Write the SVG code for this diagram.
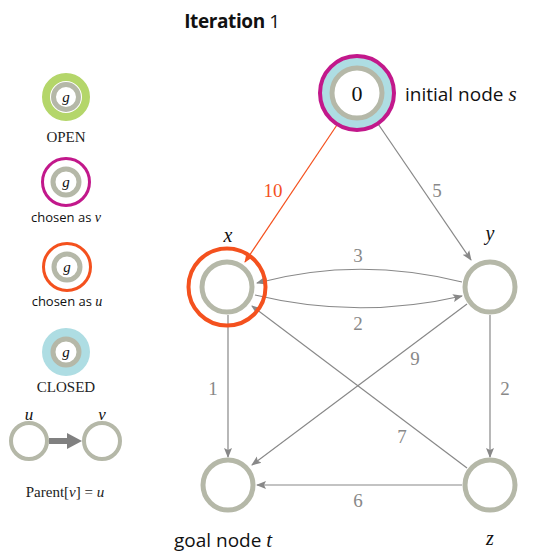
<svg xmlns="http://www.w3.org/2000/svg" width="533" height="553" viewBox="0 0 533 553">
<defs>
<style>
.ring{fill:#fff;stroke:#b5b8a8;stroke-width:5}
.e{fill:none;stroke:#888;stroke-width:1.2}
.lbl{font-family:"Liberation Serif",serif;font-size:19px;fill:#888;text-anchor:middle}
.it{font-family:"Liberation Serif",serif;font-style:italic;fill:#111;text-anchor:middle}
.sans{font-family:"Open Sans","Liberation Sans",sans-serif;fill:#111}
.leg{font-family:"Liberation Serif",serif;font-size:15px;fill:#222;text-anchor:middle}
.legs{font-family:"Open Sans","Liberation Sans",sans-serif;font-size:13px;fill:#111;text-anchor:middle}
</style>
<marker id="ag" viewBox="0 0 10 10" refX="9" refY="5" markerWidth="10" markerHeight="10" markerUnits="userSpaceOnUse" orient="auto"><path d="M0,1 L10,5 L0,9 L2,5 Z" fill="#888"/></marker>
<marker id="ao" viewBox="0 0 10 10" refX="9" refY="5" markerWidth="10" markerHeight="10" markerUnits="userSpaceOnUse" orient="auto"><path d="M0,1 L10,5 L0,9 L2,5 Z" fill="#f4511e"/></marker>
</defs>
<rect width="533" height="553" fill="#fff"/>
<text x="232" y="28" class="sans" font-size="19" text-anchor="middle" letter-spacing="-0.4"><tspan font-weight="bold">Iteration</tspan> 1</text>

<g id="legend">
<g id="leg-open"><circle cx="66" cy="97" r="20" fill="none" stroke="#b4d66a" stroke-width="8"/><circle cx="66" cy="97" r="12.5" class="ring" stroke-width="4"/><text x="66" y="102" class="it" font-size="15">g</text><text x="66" y="142" class="leg">OPEN</text></g>
<g id="leg-v"><circle cx="66" cy="182" r="23.5" fill="none" stroke="#c2188b" stroke-width="3"/><circle cx="66" cy="182" r="13" class="ring" stroke-width="4"/><text x="66" y="187" class="it" font-size="15">g</text><text x="66" y="222" class="legs">chosen as <tspan font-family="Liberation Serif,serif" font-style="italic" font-size="14">v</tspan></text></g>
<g id="leg-u"><circle cx="67" cy="267" r="23.5" fill="none" stroke="#f4511e" stroke-width="3"/><circle cx="67" cy="267" r="13" class="ring" stroke-width="4"/><text x="67" y="272" class="it" font-size="15">g</text><text x="67" y="306" class="legs">chosen as <tspan font-family="Liberation Serif,serif" font-style="italic" font-size="14">u</tspan></text></g>
<g id="leg-closed"><circle cx="66" cy="352" r="24" fill="#aedde3"/><circle cx="66" cy="352" r="13" class="ring" stroke-width="4"/><text x="66" y="357" class="it" font-size="15">g</text><text x="66" y="392" class="leg">CLOSED</text></g>
<g id="leg-parent">
<circle cx="29" cy="441" r="18" fill="#fff" stroke="#b5b8a8" stroke-width="4"/>
<circle cx="102" cy="441" r="18" fill="#fff" stroke="#b5b8a8" stroke-width="4"/>
<path d="M49,438 L67,438 L67,433 L82,441 L67,449 L67,444 L49,444 Z" fill="#808080"/>
<text x="29" y="420" class="it" font-size="17">u</text>
<text x="102" y="420" class="it" font-size="17">v</text>
<text x="65" y="497" class="leg" font-size="14">Parent[<tspan font-style="italic">v</tspan>] = <tspan font-style="italic">u</tspan></text>
</g>
</g>

<g id="connectors">
<line x1="343" y1="116" x2="245" y2="262" stroke="#f4511e" stroke-width="1.2" marker-end="url(#ao)"/>
<line x1="372" y1="115" x2="471" y2="260" class="e" marker-end="url(#ag)"/>
<path d="M462,282 Q358,256 257,283" class="e" marker-end="url(#ag)"/>
<path d="M255,295 Q358,320 462,296" class="e" marker-end="url(#ag)"/>
<line x1="228" y1="315" x2="228" y2="457" class="e" marker-end="url(#ag)"/>
<line x1="490" y1="315" x2="490" y2="457" class="e" marker-end="url(#ag)"/>
<line x1="467" y1="304" x2="252" y2="465" class="e" marker-end="url(#ag)"/>
<line x1="467" y1="468" x2="252" y2="306" class="e" marker-end="url(#ag)"/>
<line x1="462" y1="485" x2="257" y2="485" class="e" marker-end="url(#ag)"/>
<text x="273" y="197" class="lbl" style="fill:#f4511e">10</text>
<text x="437" y="197" class="lbl">5</text>
<text x="358" y="262" class="lbl">3</text>
<text x="358" y="330" class="lbl">2</text>
<text x="213" y="395" class="lbl">1</text>
<text x="505" y="395" class="lbl">2</text>
<text x="415" y="365" class="lbl">9</text>
<text x="402" y="443" class="lbl">7</text>
<text x="358" y="507" class="lbl">6</text>
</g>

<g id="node-s">
<circle cx="357" cy="93" r="37" fill="#aedde3" stroke="#c2188b" stroke-width="4"/>
<circle cx="357" cy="93" r="25" class="ring"/>
<text x="357" y="101" font-family="Liberation Serif,serif" font-size="22" fill="#111" text-anchor="middle">0</text>
<text x="405" y="101" class="sans" font-size="19">initial node <tspan font-family="Liberation Serif,serif" font-style="italic" font-size="21">s</tspan></text>
</g>
<g id="node-x">
<circle cx="227" cy="287" r="38.5" fill="none" stroke="#f4511e" stroke-width="4"/>
<circle cx="227" cy="287" r="25" class="ring"/>
<text x="228" y="242" class="it" font-size="20">x</text>
</g>
<g id="node-y">
<circle cx="490" cy="287" r="25" class="ring"/>
<text x="490" y="240" class="it" font-size="20">y</text>
</g>
<g id="node-t">
<circle cx="228" cy="485" r="25" class="ring"/>
<text x="174" y="547" class="sans" font-size="19">goal node <tspan font-family="Liberation Serif,serif" font-style="italic" font-size="21">t</tspan></text>
</g>
<g id="node-z">
<circle cx="490" cy="485" r="25" class="ring"/>
<text x="490" y="545" class="it" font-size="20">z</text>
</g>
</svg>
